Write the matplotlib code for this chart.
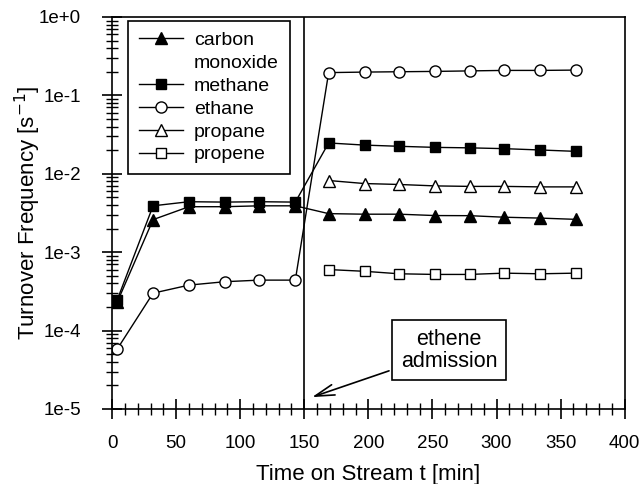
import numpy as np
import matplotlib.pyplot as plt
from matplotlib.lines import Line2D
from matplotlib.ticker import LogLocator, MultipleLocator, FuncFormatter, NullFormatter

plt.rcParams['font.family'] = ['Liberation Sans', 'DejaVu Sans']

# time on stream [min]
t_pre = [4, 32, 60, 88, 115, 143]
t_post = [169, 197, 224, 252, 279, 306, 334, 362]

# turnover frequencies [1/s]
co_pre = [2.3e-4, 2.6e-3, 3.8e-3, 3.8e-3, 3.9e-3, 3.9e-3]
co_post = [3.1e-3, 3.05e-3, 3.05e-3, 2.93e-3, 2.92e-3, 2.79e-3, 2.72e-3, 2.62e-3]
methane_pre = [2.45e-4, 3.9e-3, 4.4e-3, 4.35e-3, 4.4e-3, 4.35e-3]
methane_post = [0.0247, 0.0232, 0.0224, 0.0217, 0.0214, 0.0209, 0.0201, 0.0193]
ethane_pre = [5.8e-5, 3.0e-4, 3.8e-4, 4.2e-4, 4.4e-4, 4.4e-4]
ethane_post = [0.195, 0.198, 0.200, 0.202, 0.205, 0.208, 0.208, 0.210]
propane_post = [0.0082, 0.0075, 0.0073, 0.0070, 0.0069, 0.0069, 0.0068, 0.0068]
propene_post = [6.0e-4, 5.7e-4, 5.3e-4, 5.2e-4, 5.2e-4, 5.4e-4, 5.3e-4, 5.4e-4]

fig = plt.figure(figsize=(6.44, 4.84), dpi=100)
ax = fig.add_axes([0.174, 0.155, 0.796, 0.810])

ms = 8
h_co, = ax.plot(t_pre + t_post, co_pre + co_post, '-^', color='black', mfc='black', ms=ms, lw=1)
h_me, = ax.plot(t_pre + t_post, methane_pre + methane_post, '-s', color='black', mfc='black', ms=ms - 0.5, lw=1)
h_et, = ax.plot(t_pre + t_post, ethane_pre + ethane_post, '-o', color='black', mfc='white', ms=ms, lw=1)
h_pa, = ax.plot(t_post, propane_post, '-^', color='black', mfc='white', ms=ms, lw=1)
h_pe, = ax.plot(t_post, propene_post, '-s', color='black', mfc='white', ms=ms - 0.5, lw=1)

ax.axvline(150, color='black', lw=1.2)

ax.set_yscale('log')
ax.set_xlim(0, 400)
ax.set_ylim(1e-5, 1)
ax.xaxis.set_major_locator(MultipleLocator(50))
ax.xaxis.set_minor_locator(MultipleLocator(10))
ax.yaxis.set_major_locator(LogLocator(base=10))
ax.yaxis.set_minor_locator(LogLocator(base=10, subs=np.arange(2, 10)))
ax.yaxis.set_minor_formatter(NullFormatter())
ax.yaxis.set_major_formatter(FuncFormatter(lambda v, p: '1e%+d' % round(np.log10(v))))

ax.tick_params(which='major', direction='inout', length=15, width=1.2, labelsize=13.5)
ax.tick_params(which='minor', direction='inout', length=8, width=1)
ax.tick_params(axis='x', which='major', pad=11)
ax.tick_params(axis='y', which='major', pad=15)

for s in ax.spines.values():
    s.set_linewidth(1.2)

ax.set_xlabel('Time on Stream t [min]', fontsize=16, labelpad=9)
ax.set_ylabel('Turnover Frequency [s$^{-1}$]', fontsize=16, labelpad=-3)

# second line of "carbon monoxide" as a blank entry so the marker sits on the first line
blank = Line2D([], [], color='none')
leg = ax.legend([h_co, blank, h_me, h_et, h_pa, h_pe],
                ['carbon', 'monoxide', 'methane', 'ethane', 'propane', 'propene'],
                loc='upper left', bbox_to_anchor=(0.031, 0.99), borderaxespad=0, fontsize=14,
                handlelength=2.3, frameon=True, fancybox=False, framealpha=1, edgecolor='black',
                borderpad=0.55, labelspacing=0.27, handletextpad=0.55)
leg.get_frame().set_linewidth(1.2)

ax.annotate('ethene\nadmission', xy=(154, 1.38e-5), xytext=(263, 5.6e-5),
            fontsize=15.5, ha='center', va='center', linespacing=1.05,
            bbox=dict(boxstyle='square,pad=0.4', fc='white', ec='black', lw=1.2),
            arrowprops=dict(arrowstyle='->,head_length=0.9,head_width=0.25', color='black', lw=1.2))

fig.savefig('out.png', dpi=100)
